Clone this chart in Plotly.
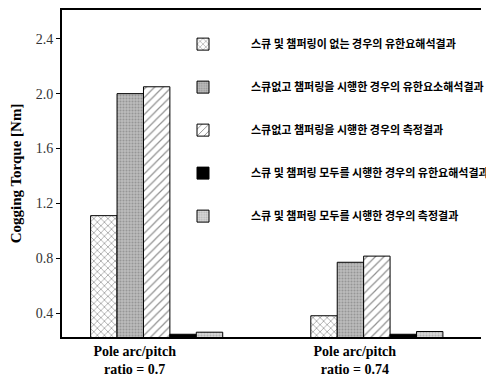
import plotly.graph_objects as go

categories = ["<b>Pole arc/pitch</b><br><b>ratio = 0.7</b>", "<b>Pole arc/pitch</b><br><b>ratio = 0.74</b>"]
series_names = [
    "스큐 및 챔퍼링이 없는 경우의 유한요해석결과",
    "스큐없고 챔퍼링을 시행한 경우의 유한요소해석결과",
    "스큐없고 챔퍼링을 시행한 경우의 측정결과",
    "스큐 및 챔퍼링 모두를 시행한 경우의 유한요해석결과",
    "스큐 및 챔퍼링 모두를 시행한 경우의 측정결과",
]
no_skew_no_chamfer_fea = [1.11, 0.38]
chamfer_fea = [2.00, 0.77]
chamfer_measured = [2.05, 0.815]
skew_chamfer_fea = [0.245, 0.245]
skew_chamfer_measured = [0.26, 0.265]
y_ticks = [0.4, 0.8, 1.2, 1.6, 2.0, 2.4]

series_values = [no_skew_no_chamfer_fea, chamfer_fea, chamfer_measured,
                 skew_chamfer_fea, skew_chamfer_measured]

styles = [
    dict(color="white", pattern=dict(shape="x", fgcolor="#222", bgcolor="white", size=5, solidity=0.25, fillmode="overlay")),
    dict(color="#bdbdbd", pattern=dict(shape=".", fgcolor="#707070", bgcolor="#bdbdbd", size=3, solidity=0.4, fillmode="overlay")),
    dict(color="white", pattern=dict(shape="/", fgcolor="#222", bgcolor="white", size=6, solidity=0.2, fillmode="overlay")),
    dict(color="black", pattern=dict(shape="")),
    dict(color="#d8d8d8", pattern=dict(shape=".", fgcolor="#909090", bgcolor="#d8d8d8", size=3, solidity=0.4, fillmode="overlay")),
]

w = 0.12
fig = go.Figure()
for i, (name, vals, st) in enumerate(zip(series_names, series_values, styles)):
    fig.add_trace(go.Bar(
        x=[0, 1], y=vals, name=name, width=w, offset=-0.2 + i * w,
        marker=dict(color=st["color"], pattern=st["pattern"],
                    line=dict(color="black", width=1)),
        legendgroup=str(i),
    ))

# page body has an 8px default margin, so the figure is 8px smaller and shifted
fig.update_layout(
    width=486, height=370,
    margin=dict(l=54, r=0, t=2, b=41),
    paper_bgcolor="white", plot_bgcolor="white",
    barmode="overlay",
    showlegend=True,
    legend=dict(x=0.222, y=0.94, xanchor="left", yanchor="top",
                font=dict(family="Noto Sans CJK KR", size=11, color="black", weight="bold"),
                bgcolor="rgba(0,0,0,0)", tracegroupgap=24, itemwidth=86),
    xaxis=dict(tickmode="array", tickvals=[0, 1], ticktext=categories,
               range=[-0.33, 1.573], showline=True, linecolor="black", linewidth=2,
               mirror=True, ticks="", showgrid=False, zeroline=False, automargin=False,
               tickfont=dict(family="Liberation Serif", size=14, color="black")),
    yaxis=dict(range=[0.225, 2.61], tickvals=y_ticks, ticktext=["%.1f" % v for v in y_ticks],
               showline=True, linecolor="black", linewidth=2, ticks="outside", ticklen=4,
               tickcolor="black", tickwidth=1,
               showgrid=False, zeroline=False, automargin=False,
               tickfont=dict(family="Liberation Serif", size=14, color="#333"),
               title=dict(text="<b>Cogging Torque [Nm]</b>", standoff=12,
                          font=dict(family="Liberation Serif", size=15, color="black"))),
)
fig.write_html("out.html")
